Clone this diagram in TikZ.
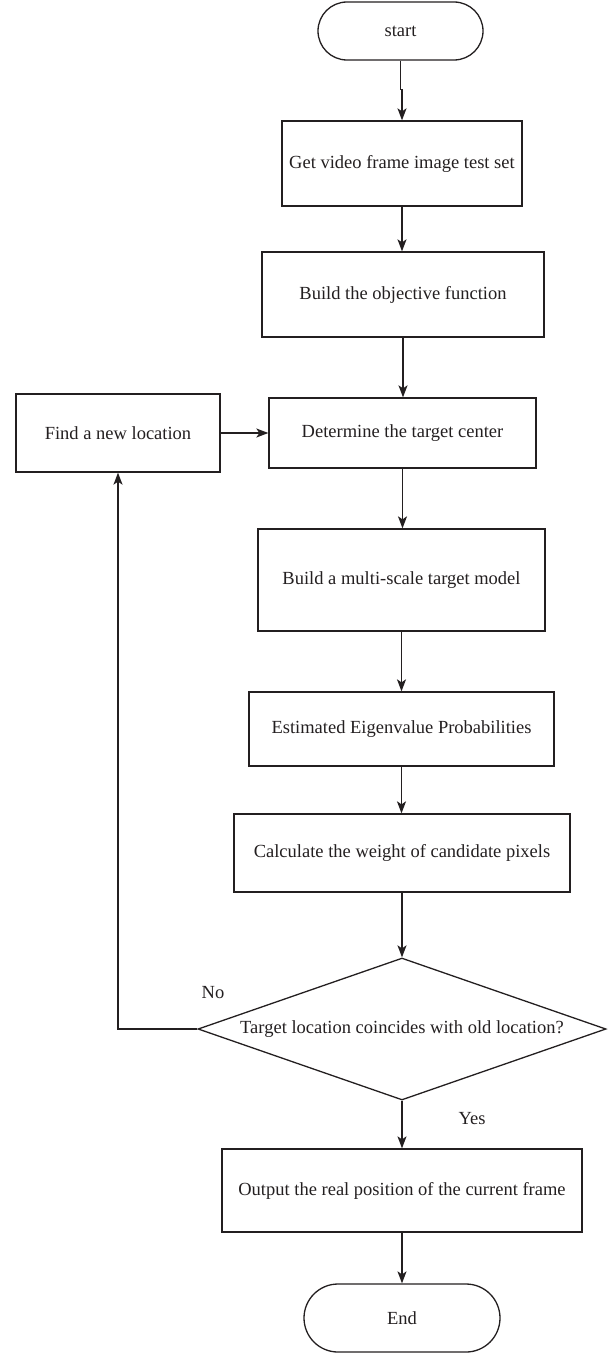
\documentclass[tikz,border=0pt]{standalone}
\usepackage{fontspec}
\setmainfont{Liberation Serif}
\usetikzlibrary{arrows.meta,shapes.geometric}
\definecolor{ink}{HTML}{231F20}
\begin{document}
\begin{tikzpicture}[x=1pt,y=-1pt,
  every node/.style={font=\fontsize{18.5}{22}\selectfont, text=ink},
  procbox/.style={draw=ink, line width=1.3pt, rectangle, inner sep=0pt},
  termbox/.style={draw=ink, line width=1.3pt, rectangle, inner sep=0pt},
  decision/.style={draw=ink, line width=1.3pt, diamond, inner sep=0pt},
  arr/.style={draw=ink, line width=1.3pt, -{Stealth[length=12pt,width=9pt,inset=3pt]}}]
\useasboundingbox (0,0) rectangle (614,1354);
\node[termbox, minimum width=165pt, minimum height=58pt, rounded corners=29pt] (start) at (400.5,31) {start};
\node[procbox, minimum width=240pt, minimum height=85pt] (b1) at (402,163.5) {Get video frame image test set};
\node[procbox, minimum width=282pt, minimum height=85pt] (b2) at (403,294.5) {Build the objective function};
\node[procbox, minimum width=267pt, minimum height=70pt] (det) at (402.5,433) {Determine the target center};
\node[procbox, minimum width=204pt, minimum height=78pt] (find) at (118,433) {Find a new location};
\node[procbox, minimum width=287pt, minimum height=102pt] (b4) at (401.5,580) {Build a multi-scale target model};
\node[procbox, minimum width=305pt, minimum height=74pt] (b5) at (401.5,729) {Estimated Eigenvalue Probabilities};
\node[procbox, minimum width=336pt, minimum height=78pt] (b6) at (402,853) {Calculate the weight of candidate pixels};
\node[decision, minimum width=408pt, minimum height=142pt,
  label={center:Target location coincides with old location?}] (dec) at (402,1029) {};
\node[procbox, minimum width=360pt, minimum height=83pt] (b7) at (402,1190.5) {Output the real position of the current frame};
\node[termbox, minimum width=196pt, minimum height=68pt, rounded corners=34pt] (end) at (402,1318) {End};
\node (no) at (213,993) {No};
\node (yes) at (472,1119) {Yes};
\draw[arr] (start.south) -- ++(0,29) -| (b1.north);
\draw[arr] (b1.south) -- (b1.south |- b2.north);
\draw[arr] (b2.south) -- (b2.south |- det.north);
\draw[arr] (find.east) -- (find.east -| det.west);
\draw[arr] (det.south) -- (det.south |- b4.north);
\draw[arr] (b4.south) -- (b4.south |- b5.north);
\draw[arr] (b5.south) -- (b5.south |- b6.north);
\draw[arr] (b6.south) -- (b6.south |- dec.north);
\draw[arr] (dec.south) -- (dec.south |- b7.north);
\draw[arr] (b7.south) -- (b7.south |- end.north);
\draw[arr] (dec.west) -- (find.south |- dec.west) -- (find.south);
\end{tikzpicture}
\end{document}
